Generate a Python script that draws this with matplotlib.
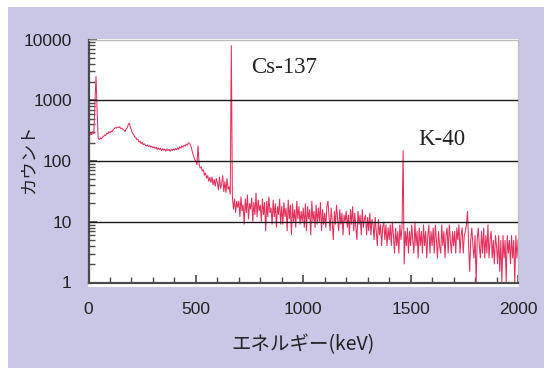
import matplotlib
matplotlib.use("Agg")
import matplotlib.pyplot as plt
from matplotlib.patches import Rectangle
from matplotlib.ticker import MultipleLocator, LogLocator, NullFormatter
import numpy as np

# ── Data (counts per 5 keV channel) ───────────────────────────────────────────
ENERGY_STEP = 5
counts_0000 = [1, 260, 290, 270, 305, 280, 900, 2500, 700, 240,
               225, 238, 232, 248, 252, 268, 262, 288, 282, 305]
counts_0100 = [290, 308, 302, 330, 338, 356, 348, 362, 352, 368,
               340, 348, 330, 322, 305, 335, 350, 395, 420, 360]
counts_0200 = [320, 285, 275, 250, 245, 225, 228, 205, 212, 192,
               203, 185, 192, 184, 176, 184, 172, 180, 168, 176]
counts_0300 = [165, 172, 160, 170, 155, 165, 152, 163, 148, 160,
               150, 158, 145, 158, 148, 156, 144, 155, 148, 158]
counts_0400 = [150, 162, 152, 166, 155, 172, 162, 178, 168, 182,
               175, 190, 182, 200, 195, 185, 160, 135, 118, 105]
counts_0500 = [98, 86, 180, 88, 76, 80, 68, 72, 58, 64,
               52, 58, 46, 54, 44, 55, 40, 50, 38, 52]
counts_0600 = [44, 33, 55, 35, 42, 58, 31, 46, 30, 52,
               34, 38, 28, 8000, 26, 16, 24, 14, 22, 17]
counts_0700 = [22, 12, 26, 15, 19, 9, 24, 14, 28, 11,
               20, 16, 25, 10, 21, 13, 30, 12, 23, 15]
counts_0800 = [19, 10, 24, 13, 21, 7, 22, 12, 26, 14,
               17, 9, 23, 12, 20, 8, 18, 13, 24, 9]
counts_0900 = [18, 9, 21, 12, 17, 7, 23, 11, 19, 6,
               20, 10, 16, 8, 22, 11, 18, 9, 15, 10]
counts_1000 = [17, 8, 20, 7, 18, 11, 16, 6, 22, 10,
               15, 8, 19, 9, 17, 10, 21, 7, 16, 9]
counts_1100 = [14, 8, 18, 22, 12, 7, 17, 10, 5, 15,
               9, 19, 11, 7, 16, 9, 14, 6, 13, 10]
counts_1200 = [15, 8, 13, 6, 16, 9, 18, 7, 14, 8,
               5, 15, 9, 13, 6, 16, 8, 11, 13, 6]
counts_1300 = [12, 7, 14, 6, 11, 9, 5, 12, 7, 4,
               11, 6, 9, 4, 8, 10, 5, 9, 4, 8]
counts_1400 = [5, 9, 4, 10, 6, 3, 8, 4, 7, 3,
               9, 5, 8, 150, 2, 7, 4, 8, 3, 7]
counts_1500 = [4, 9, 5, 3, 10, 4, 7, 2.5, 8, 4,
               7, 3, 9, 4, 7, 2.5, 6, 9, 3, 7]
counts_1600 = [4, 8, 3, 9, 5, 2.5, 7, 4, 3, 9,
               4, 7, 2.5, 6, 8, 3, 9, 5, 3, 7]
counts_1700 = [4, 7, 3, 8, 5, 9, 3, 6, 8, 3,
               6, 7, 9, 15, 4, 1.5, 5, 8, 4, 2.5]
counts_1800 = [6, 1, 5, 8, 4, 2.5, 7, 3, 8, 2.5,
               6, 3, 9, 2.5, 5, 7, 2.5, 5, 2, 6]
counts_1900 = [4, 2, 6, 1.5, 5, 1, 6, 2.5, 5, 1,
               6, 3, 5, 2, 6, 2.5, 5, 1, 6, 2.5, 5]

counts = np.array(counts_0000 + counts_0100 + counts_0200 + counts_0300
                  + counts_0400 + counts_0500 + counts_0600 + counts_0700
                  + counts_0800 + counts_0900 + counts_1000 + counts_1100
                  + counts_1200 + counts_1300 + counts_1400 + counts_1500
                  + counts_1600 + counts_1700 + counts_1800 + counts_1900,
                  dtype=float)
energy = np.arange(len(counts)) * ENERGY_STEP

PEAK_LABELS = ["Cs-137", "K-40"]
PEAK_LABEL_POS = [(912, 3500), (1644, 230)]
GRID_LEVELS = [10, 100, 1000]

# ── Style ─────────────────────────────────────────────────────────────────────
BG     = "#c9c7e5"
LINE   = "#e3305c"
AXIS   = "#4a4a4a"
TICKFONT = ["Liberation Sans Narrow", "Liberation Sans", "DejaVu Sans"]
JPFONT   = ["Noto Sans CJK JP", "DejaVu Sans"]

W, H = 544, 368
fig = plt.figure(figsize=(W / 100, H / 100), dpi=100, facecolor="white")

# lavender panel (white strip at top/left edge as in the source)
fig.patches.append(Rectangle((8 / W, 0), 1 - 8 / W, 1 - 7 / H,
                             transform=fig.transFigure, facecolor=BG,
                             edgecolor="none", zorder=0))
# white plot card, slightly taller than the axes at the bottom
fig.patches.append(Rectangle((88 / W, 1 - 287 / H), (519 - 88) / W,
                             (287 - 38.5) / H, transform=fig.transFigure,
                             facecolor="white", edgecolor="none", zorder=1))

ax = fig.add_axes([88.5 / W, 1 - 282.5 / H, (518 - 88.5) / W,
                   (282.5 - 39.5) / H])
ax.set_facecolor("white")
ax.set_zorder(2)

ax.plot(energy, counts, color=LINE, lw=0.75, solid_joinstyle="miter")
ax.hlines(GRID_LEVELS, 0, 2000, colors="#1a1a1a", lw=1.0, zorder=3)

ax.set_yscale("log")
ax.set_xlim(0, 2000)
ax.set_ylim(1, 10000)

ax.xaxis.set_major_locator(MultipleLocator(500))
ax.xaxis.set_minor_locator(MultipleLocator(100))
ax.yaxis.set_major_locator(LogLocator(base=10))
ax.yaxis.set_minor_locator(LogLocator(base=10, subs=np.arange(2, 10)))
ax.yaxis.set_minor_formatter(NullFormatter())
ax.set_yticks([1, 10, 100, 1000, 10000])
ax.set_yticklabels(["1", "10", "100", "1000", "10000"])
ax.set_xticks([0, 500, 1000, 1500, 2000])
ax.set_xticklabels(["0", "500", "1000", "1500", "2000"])

ax.tick_params(which="major", direction="in", length=6, width=1.2,
               color=AXIS, labelsize=12.5, labelcolor="#222222")
ax.tick_params(which="minor", direction="in", length=4, width=1.0,
               color=AXIS)
ax.tick_params(axis="x", which="major", pad=14)
ax.tick_params(axis="y", which="major", pad=12)
for lbl in ax.get_xticklabels() + ax.get_yticklabels():
    lbl.set_family(TICKFONT)

for side in ("left", "bottom"):
    ax.spines[side].set_color(AXIS)
    ax.spines[side].set_linewidth(1.6)
for side in ("top", "right"):
    ax.spines[side].set_color("#bdbdbd")
    ax.spines[side].set_linewidth(1.0)

for text, (x, y) in zip(PEAK_LABELS, PEAK_LABEL_POS):
    ax.text(x, y, text, family=["Liberation Serif", "DejaVu Serif"],
            fontsize=16.5, color="#222222", ha="center", va="center", zorder=4)

fig.text(28.5 / W, 1 - 159 / H, "カウント", family=JPFONT, fontsize=12.5,
         rotation=90, ha="center", va="center", color="#222222")
fig.text(303 / W, 1 - 345 / H, "エネルギー(keV)", family=JPFONT,
         fontsize=14, ha="center", va="center", color="#222222")

fig.savefig("out.png", dpi=100, facecolor="white")
